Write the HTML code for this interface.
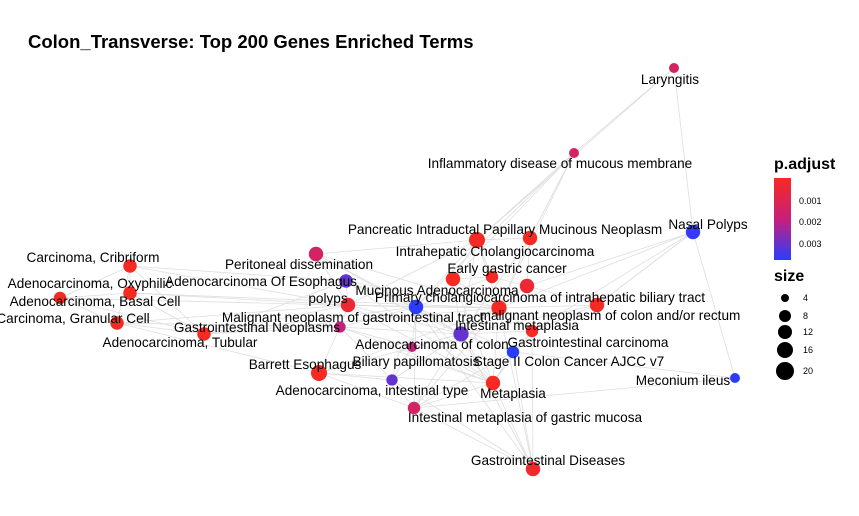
<!DOCTYPE html>
<html><head><meta charset="utf-8"><style>
body{margin:0;background:#fff;}
svg{display:block;font-family:"Liberation Sans",Arial,sans-serif;}
</style></head><body>
<svg id="chart" width="859" height="516" viewBox="0 0 859 516">
<text x="28" y="48" font-size="18.5" font-weight="bold" fill="#000">Colon_Transverse: Top 200 Genes Enriched Terms</text>
<g id="edges"></g>
<g id="nodes"></g>
<g id="labels"></g>
<g>
<defs><linearGradient id="cg" x1="0" y1="0" x2="0" y2="1"><stop offset="0" stop-color="#f52a22"/><stop offset="0.5" stop-color="#c8207a"/><stop offset="1" stop-color="#2a3cff"/></linearGradient></defs>
<text x="774" y="169" font-size="16" font-weight="bold">p.adjust</text>
<rect x="774" y="178" width="17" height="82" fill="url(#cg)"/>
<text x="799" y="204" font-size="9">0.001</text>
<text x="799" y="225" font-size="9">0.002</text>
<text x="799" y="247" font-size="9">0.003</text>
<text x="774" y="281" font-size="16" font-weight="bold">size</text>
<circle cx="785" cy="298" r="4"/><text x="803" y="301" font-size="9">4</text>
<circle cx="785" cy="316" r="6"/><text x="803" y="319" font-size="9">8</text>
<circle cx="785" cy="332" r="7"/><text x="803" y="335" font-size="9">12</text>
<circle cx="785" cy="350" r="8"/><text x="803" y="353" font-size="9">16</text>
<circle cx="785" cy="371" r="9"/><text x="803" y="374" font-size="9">20</text>
</g>
</svg>
<script>
const nodeNames=["Laryngitis","Inflammatory disease of mucous membrane","Nasal Polyps","Pancreatic Intraductal Papillary Mucinous Neoplasm","Intrahepatic Cholangiocarcinoma","Peritoneal dissemination","Carcinoma, Cribriform","Early gastric cancer","early-gastric-2","early-gastric-3","Adenocarcinoma Of Esophagus","Adenocarcinoma, Oxyphilic","Adenocarcinoma, Basal Cell","Mucinous Adenocarcinoma","polyps","Primary cholangiocarcinoma of intrahepatic biliary tract","Malignant neoplasm of gastrointestinal tract","Carcinoma, Granular Cell","Gastrointestinal Neoplasms","Intestinal metaplasia","Adenocarcinoma, Tubular","Gastrointestinal carcinoma","Adenocarcinoma of colon","Stage II Colon Cancer AJCC v7","Biliary papillomatosis","Barrett Esophagus","Adenocarcinoma, intestinal type","Metaplasia","Meconium ileus","Intestinal metaplasia of gastric mucosa","Gastrointestinal Diseases","malignant neoplasm of colon and/or rectum"];
const nodeX=[674,574,693,477,530,316,130,453,492,527,346,130,60,416,348,597,499,117,340,461,204,532,412,513,399,319,392,493,735,414,533,560];
const nodeY=[68,153,232,240,238,254,266,279,277,286,281,293,298,307,305,305,308,323,327,334,334,331,347,352,352,373,380,383,378,408,469,310];
const nodeSize=[4,4,12,16,12,12,10,12,8,12,10,10,8,12,12,12,14,10,6,14,10,8,4,8,0,16,6,12,4,8,12,0];
const nodePadj=[0.0015,0.0015,0.0035,0.0003,0.0003,0.0015,0.0003,0.0003,0.0003,0.0006,0.003,0.0003,0.0003,0.0036,0.0006,0.0003,0.0003,0.0003,0.002,0.003,0.0003,0.0003,0.002,0.0036,0.002,0.0003,0.003,0.0003,0.0036,0.0015,0.0005,0.0003];
const labelX=[670,560,708,505,495,299,93,507,0,0,261,90,95,437,328,540,353,73,257,517,180,588,432,569,416,305,372,513,683,525,548,610];
const labelY=[79,163,224,229,251,264,257,268,0,0,281,283,301,290,298,297,317,318,327,325,342,342,344,361,361,364,390,393,380,417,460,315];
const edgeFrom=[0,0,0,1,1,1,1,1,2,2,2,2,3,3,3,3,4,4,6,6,6,6,11,11,11,12,12,17,17,17,20,20,20,5,5,5,10,10,10,14,14,14,18,18,18,18,13,13,13,16,16,16,19,19,19,22,22,24,24,25,25,25,26,26,27,27,27,29,29,30,30,15,15,21,23,7,7,9,8,3,4,6,6,11,12,17,20,20,5,5,10,10,14,14,18,18,25,25,26,13,13,13,16,16,19,19,22,23,27,29,3,3,4,7,7,9,1,2,2,30,30,30,15,21,8];
const edgeTo=[1,3,2,3,4,7,13,16,15,21,28,9,4,7,13,16,16,19,11,12,17,20,12,20,14,17,20,20,18,25,18,14,10,14,13,3,14,13,16,13,16,18,13,25,22,26,16,19,22,19,15,9,21,23,27,24,26,26,27,26,27,29,29,30,29,30,23,30,28,21,16,9,21,23,28,8,16,16,9,8,9,10,14,16,13,14,16,13,16,19,19,27,19,27,19,27,19,16,19,27,23,29,27,29,29,30,19,27,21,23,19,14,19,19,27,19,4,16,15,19,13,23,19,16,13];
function color(p){const t=Math.min(1,Math.max(0,(p-0.0003)/(0.0036-0.0003)));
 const c1=[245,42,34],c2=[200,32,122],c3=[42,60,255];let a,b,u;
 if(t<0.5){a=c1;b=c2;u=t*2}else{a=c2;b=c3;u=(t-0.5)*2}
 return `rgb(${a.map((v,k)=>Math.round(v+(b[k]-v)*u)).join(',')})`;}
function rad(s){return s<=0?0:2+Math.sqrt(s)*1.5;}
const NS="http://www.w3.org/2000/svg";
const eg=document.getElementById('edges'),ng=document.getElementById('nodes'),lg=document.getElementById('labels');
for(let i=0;i<edgeFrom.length;i++){
 const l=document.createElementNS(NS,'line');
 l.setAttribute('x1',nodeX[edgeFrom[i]]);l.setAttribute('y1',nodeY[edgeFrom[i]]);
 l.setAttribute('x2',nodeX[edgeTo[i]]);l.setAttribute('y2',nodeY[edgeTo[i]]);
 l.setAttribute('stroke','#dedede');l.setAttribute('stroke-width','0.8');
 
 
 eg.appendChild(l);}
for(let i=0;i<nodeX.length;i++){
 const r=rad(nodeSize[i]);if(r===0)continue;
 const c=document.createElementNS(NS,'circle');
 c.setAttribute('cx',nodeX[i]);c.setAttribute('cy',nodeY[i]);c.setAttribute('r',r);
 c.setAttribute('fill',color(nodePadj[i]));
 
 
 ng.appendChild(c);}
for(let i=0;i<nodeNames.length;i++){
 if(labelX[i]===0)continue;
 const t=document.createElementNS(NS,'text');
 t.setAttribute('x',labelX[i]);t.setAttribute('y',labelY[i]+5);
 t.setAttribute('text-anchor','middle');t.setAttribute('font-size','13.6');
 t.textContent=nodeNames[i];
 
 
 lg.appendChild(t);}
</script>
</body></html>
